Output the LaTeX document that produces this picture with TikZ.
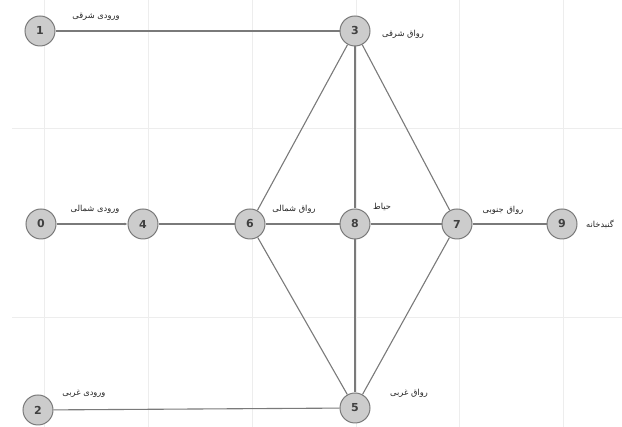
\documentclass[tikz,border=0pt]{standalone}
\usepackage{fontspec}
\usepackage{tikz}
\usetikzlibrary{arrows.meta}
\setsansfont{DejaVu Sans}
\newfontfamily\arabicfont[Script=Arabic]{DejaVu Sans}
\TeXXeTstate=1
\definecolor{nodefill}{gray}{0.8}
\definecolor{nodeline}{gray}{0.48}
\definecolor{linkgray}{gray}{0.48}
\definecolor{gridgray}{gray}{0.93}
\newcommand{\fa}[1]{\arabicfont\beginR #1\endR}

\begin{document}
\begin{tikzpicture}[x=1pt, y=1pt,
  st/.style={circle, draw=nodeline, fill=nodefill, line width=1pt, minimum size=30pt, inner sep=0pt, font=\sffamily\bfseries\fontsize{11}{13}\selectfont, text=black!75},
  lbl/.style={inner sep=0pt, font=\fontsize{8.3}{10}\selectfont, text=black!85},
  link/.style={draw=linkgray, line width=1.1pt}]
  \useasboundingbox (0,0) rectangle (622,427);
  \fill[white] (0,0) rectangle (622,427);
  % faint grid
  \foreach \gx in {44,148,252,356,459,563}
    \draw[gridgray, line width=0.6pt] (\gx,0) -- (\gx,427);
  \foreach \gy in {110,299}
    \draw[gridgray, line width=0.6pt] (12,\gy) -- (622,\gy);
  % stations
  \node[st] (n1) at (40,396) {1};
  \node[st] (n3) at (355,396) {3};
  \node[st] (n0) at (41,203) {0};
  \node[st] (n4) at (143,203) {4};
  \node[st] (n6) at (250,203) {6};
  \node[st] (n8) at (355,203) {8};
  \node[st] (n7) at (457,203) {7};
  \node[st] (n9) at (562,203) {9};
  \node[st] (n2) at (38,17) {2};
  \node[st] (n5) at (355,19) {5};
  % names
  \node[lbl] (l1) at (96,410) {\fa{ورودی شرقی}};
  \node[lbl] (l3) at (403,393) {\fa{رواق شرقی}};
  \node[lbl] (l0) at (95,218) {\fa{ورودی شمالی}};
  \node[lbl] (l6) at (294,218) {\fa{رواق شمالی}};
  \node[lbl] (l8) at (382,220) {\fa{حیاط}};
  \node[lbl] (l7) at (503,217) {\fa{رواق جنوبی}};
  \node[lbl] (l9) at (600,203) {\fa{گنبدخانه}};
  \node[lbl] (l2) at (84,33) {\fa{ورودی غربی}};
  \node[lbl] (l5) at (409,34) {\fa{رواق غربی}};
  % corridors
  \draw[link] (n1) -- (n3);
  \draw[link, -{Latex[length=3pt, width=3pt]}] (n0) -- (n4);
  \draw[link] (n4) -- (n6);
  \draw[link] (n6) -- (n8);
  \draw[link] (n8) -- (n7);
  \draw[link] (n7) -- (n9);
  \draw[link] (n3) -- (n6);
  \draw[link] (n3) -- (n8);
  \draw[link] (n3) -- (n7);
  \draw[link] (n6) -- (n5);
  \draw[link] (n8) -- (n5);
  \draw[link] (n7) -- (n5);
  \draw[link] (n2) -- (n5);
\end{tikzpicture}
\end{document}
